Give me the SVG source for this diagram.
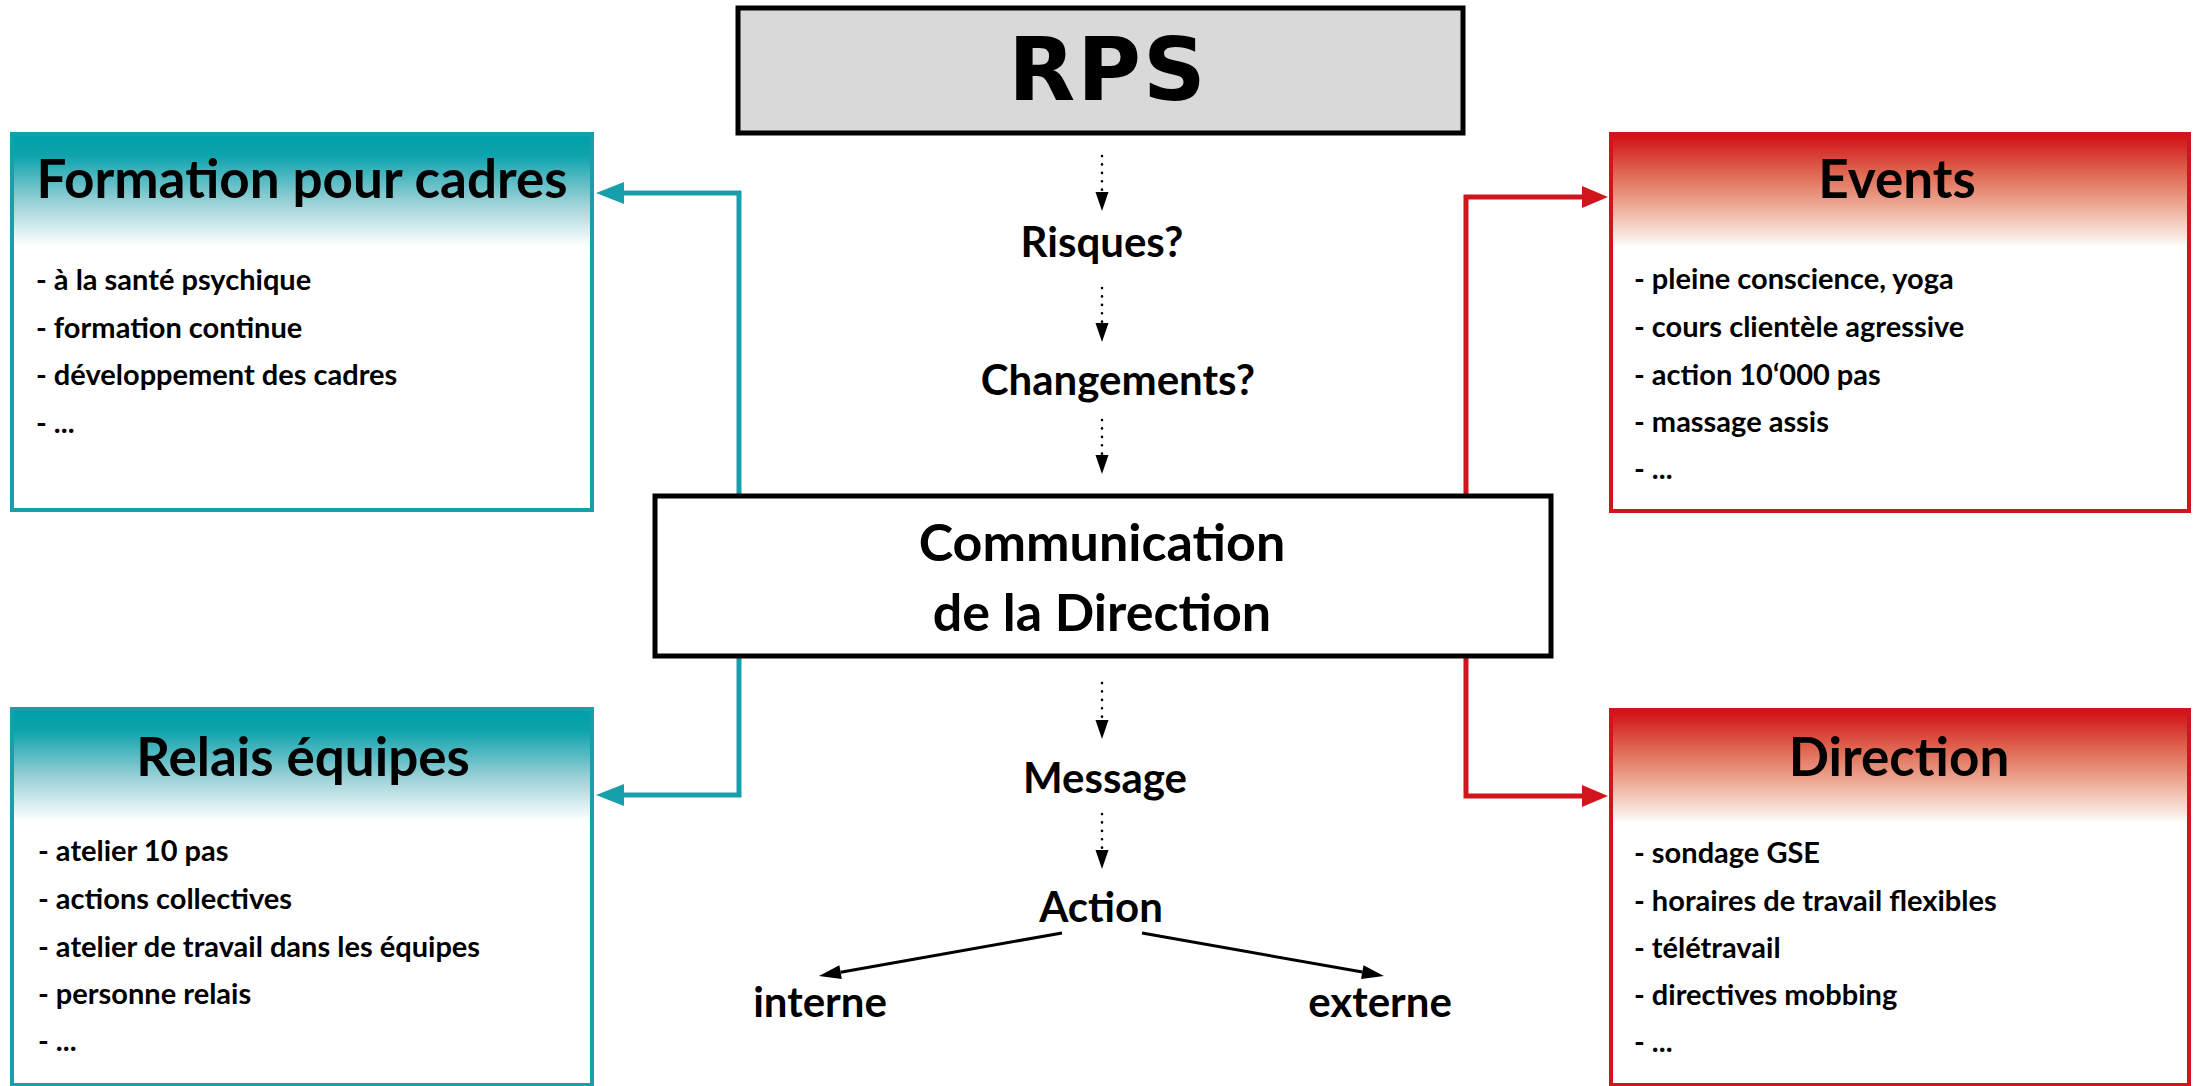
<svg xmlns="http://www.w3.org/2000/svg" width="2199" height="1086" viewBox="0 0 2199 1086">
<style>
.t{font-family:Lato,"Open Sans","DejaVu Sans",sans-serif;font-weight:bold;fill:#000}
.title{font-size:53px;text-anchor:middle}
.item{font-size:29px}
.lbl{font-size:42px;text-anchor:middle}
.big{font-size:52px;text-anchor:middle}
.tealbox{fill:#fff;stroke:#17a0ac;stroke-width:4}
.redbox{fill:#fff;stroke:#d0161c;stroke-width:4}
.tealc{fill:none;stroke:#17a0ac;stroke-width:5}
.redc{fill:none;stroke:#d0161c;stroke-width:5}
.dot{fill:none;stroke:#000;stroke-width:2.6;stroke-dasharray:0.1 8.3;stroke-linecap:round}
.sol{fill:none;stroke:#000;stroke-width:3}
</style>
<defs>
<linearGradient id="gT" x1="0" y1="0" x2="0" y2="1">
<stop offset="0" stop-color="#00a0aa"/>
<stop offset="0.18" stop-color="#0ea3ad"/>
<stop offset="0.6" stop-color="#98d0d6"/>
<stop offset="1" stop-color="#ffffff"/>
</linearGradient>
<linearGradient id="gR" x1="0" y1="0" x2="0" y2="1">
<stop offset="0" stop-color="#d21217"/>
<stop offset="0.35" stop-color="#e06b55"/>
<stop offset="0.65" stop-color="#efb09c"/>
<stop offset="1" stop-color="#ffffff"/>
</linearGradient>
<marker id="aT" markerUnits="userSpaceOnUse" markerWidth="28" markerHeight="22" refX="0" refY="11" orient="auto" overflow="visible">
<path d="M0,0 L28,11 L0,22 Z" fill="#17a0ac"/>
</marker>
<marker id="aR" markerUnits="userSpaceOnUse" markerWidth="28" markerHeight="22" refX="0" refY="11" orient="auto" overflow="visible">
<path d="M0,0 L26,11 L0,22 Z" fill="#d0161c"/>
</marker>
<marker id="aD" markerUnits="userSpaceOnUse" markerWidth="19" markerHeight="13" refX="0" refY="6.5" orient="auto" overflow="visible">
<path d="M0,0 L19,6.5 L0,13 Z" fill="#000"/>
</marker>
<marker id="aS" markerUnits="userSpaceOnUse" markerWidth="22" markerHeight="14" refX="0" refY="7" orient="auto" overflow="visible">
<path d="M0,0 L22,7 L0,14 Z" fill="#000"/>
</marker>
</defs>
<rect width="2199" height="1086" fill="#fff"/>

<g id="connectors">
<path class="tealc" d="M739,496 V193 H624" marker-end="url(#aT)"/>
<path class="tealc" d="M739,657 V795 H624" marker-end="url(#aT)"/>
<path class="redc" d="M1466,496 V197 H1582" marker-end="url(#aR)"/>
<path class="redc" d="M1466,657 V796 H1582" marker-end="url(#aR)"/>
<path class="dot" d="M1102,156 V192" marker-end="url(#aD)"/>
<path class="dot" d="M1102,288 V323" marker-end="url(#aD)"/>
<path class="dot" d="M1102,420 V455" marker-end="url(#aD)"/>
<path class="dot" d="M1102,683 V720" marker-end="url(#aD)"/>
<path class="dot" d="M1102,814 V850" marker-end="url(#aD)"/>
<path class="sol" d="M1062,933 L840.6,972.2" marker-end="url(#aS)"/>
<path class="sol" d="M1142,933 L1362.3,972.1" marker-end="url(#aS)"/>
</g>

<g id="rps">
<rect x="738" y="8" width="725" height="125" fill="#d9d9d9" stroke="#000" stroke-width="5"/>
<text x="1108" y="100" style="font-family:'DejaVu Sans',Verdana,sans-serif;font-weight:bold;font-size:87px;text-anchor:middle;letter-spacing:2px">RPS</text>
</g>

<g id="risques"><text class="t lbl" x="1102" y="257">Risques?</text></g>
<g id="changements"><text class="t lbl" x="1118" y="395">Changements?</text></g>

<g id="communication">
<rect x="655" y="496" width="896" height="160" fill="#fff" stroke="#000" stroke-width="5"/>
<text class="t big" x="1102" y="561">Communication</text>
<text class="t big" x="1102" y="631">de la Direction</text>
</g>

<g id="message"><text class="t lbl" x="1105" y="793">Message</text></g>
<g id="action"><text class="t lbl" x="1101" y="922">Action</text></g>
<g id="interne"><text class="t lbl" x="820" y="1017">interne</text></g>
<g id="externe"><text class="t lbl" x="1380" y="1017">externe</text></g>

<g id="formation">
<rect class="tealbox" x="12" y="134" width="580" height="376"/>
<rect x="14" y="136" width="576" height="110" fill="url(#gT)"/>
<text class="t title" x="302" y="198">Formation pour cadres</text>
<text class="t item" x="36" y="290">- à la santé psychique</text>
<text class="t item" x="36" y="338">- formation continue</text>
<text class="t item" x="36" y="385">- développement des cadres</text>
<text class="t item" x="36" y="433">- ...</text>
</g>

<g id="relais">
<rect class="tealbox" x="12" y="709" width="580" height="376"/>
<rect x="14" y="711" width="576" height="110" fill="url(#gT)"/>
<text class="t title" x="303" y="776">Relais équipes</text>
<text class="t item" x="38" y="861">- atelier 10 pas</text>
<text class="t item" x="38" y="909">- actions collectives</text>
<text class="t item" x="38" y="957">- atelier de travail dans les équipes</text>
<text class="t item" x="38" y="1004">- personne relais</text>
<text class="t item" x="38" y="1051">- ...</text>
</g>

<g id="events">
<rect class="redbox" x="1611" y="134" width="578" height="377"/>
<rect x="1613" y="136" width="574" height="112" fill="url(#gR)"/>
<text class="t title" x="1897" y="198">Events</text>
<text class="t item" x="1634" y="289">- pleine conscience, yoga</text>
<text class="t item" x="1634" y="337">- cours clientèle agressive</text>
<text class="t item" x="1634" y="385">- action 10‘000 pas</text>
<text class="t item" x="1634" y="432">- massage assis</text>
<text class="t item" x="1634" y="479">-  ...</text>
</g>

<g id="direction">
<rect class="redbox" x="1611" y="710" width="578" height="375"/>
<rect x="1613" y="712" width="574" height="112" fill="url(#gR)"/>
<text class="t title" x="1899" y="776">Direction</text>
<text class="t item" x="1634" y="863">- sondage GSE</text>
<text class="t item" x="1634" y="911">- horaires de travail flexibles</text>
<text class="t item" x="1634" y="958">- télétravail</text>
<text class="t item" x="1634" y="1005">- directives mobbing</text>
<text class="t item" x="1634" y="1052">- ...</text>
</g>
</svg>
